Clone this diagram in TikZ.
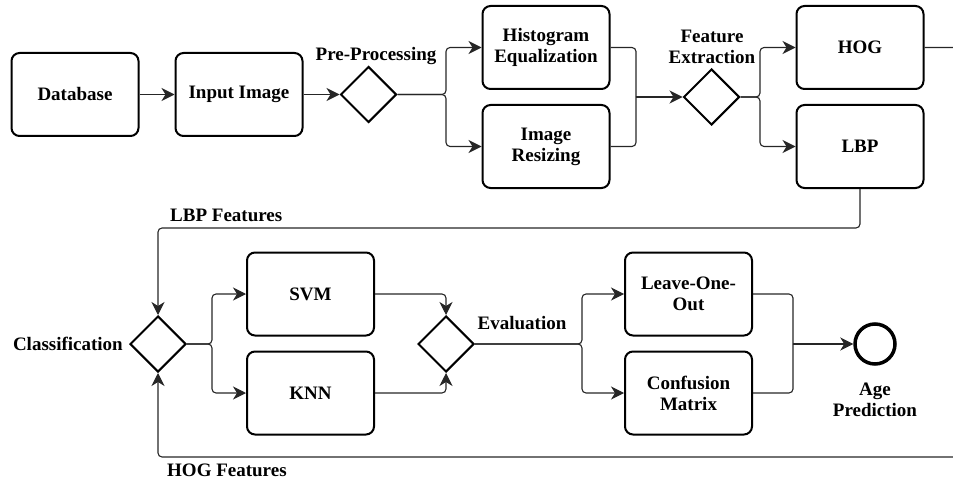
\documentclass[tikz,border=0pt]{standalone}
\usepackage{fontspec}
\setmainfont{Liberation Serif}
\usetikzlibrary{shapes.geometric,arrows.meta}
\begin{document}
\begin{tikzpicture}[x=1pt,y=-1pt,
  every node/.style={font=\fontsize{19}{21}\selectfont\bfseries},
  box/.style={draw, line width=2pt, rounded corners=8pt, minimum width=127, minimum height=83, align=center, inner sep=2pt},
  gate/.style={draw, diamond, line width=2pt, minimum width=56, minimum height=56, inner sep=0pt},
  lbl/.style={inner sep=0pt, align=center},
  conn/.style={draw=black!85, line width=1.1pt, rounded corners=4pt},
  arr/.style={conn, -{Stealth[length=13pt,width=13pt,inset=4pt]}}
]
\useasboundingbox (0,0) rectangle (953,484);
\clip (0,0) rectangle (953,484);
% top row
\node[box] (db) at (75,94.5) {Database};
\node[box] (inp) at (239,94.5) {Input Image};
\node[gate] (pp) at (368.5,94.5) {};
\node[lbl] (ppl) at (376,56) {Pre-Processing};
\node[box] (hist) at (546,47.5) {Histogram\\Equalization};
\node[box] (resz) at (546,146.5) {Image\\Resizing};
\node[gate] (fe) at (711.5,97) {};
\node[lbl] (fel) at (712,47) {Feature\\Extraction};
\node[box] (hog) at (860,47.5) {HOG};
\node[box] (lbp) at (860,146.5) {LBP};
% bottom row
\node[gate] (cls) at (158,344) {};
\node[lbl, anchor=east] (clsl) at (123,344) {Classification};
\node[box] (svm) at (310.5,294) {SVM};
\node[box] (knn) at (310.5,393) {KNN};
\node[gate] (ev) at (446,344) {};
\node[lbl] (evl) at (522,323) {Evaluation};
\node[box] (loo) at (688.5,294) {Leave-One-\\Out};
\node[box] (cm) at (688.5,393) {Confusion\\Matrix};
\node[draw, circle, line width=3.5pt, minimum size=40, inner sep=0pt] (end) at (875,344) {};
\node[lbl] (endl) at (875,400) {Age\\Prediction};
\node[lbl, anchor=west] (lbpl) at (170,215) {LBP Features};
\node[lbl, anchor=west] (hogl) at (167,470) {HOG Features};
% coordinates
\coordinate (s1) at (446,94.5);
\coordinate (m1) at (636,97);
\coordinate (s2) at (760,97);
\coordinate (s3) at (212,344);
\coordinate (s4) at (582,344);
\coordinate (m2) at (793,344);
\coordinate (lb1) at (860,228);
\coordinate (lb2) at (158,228);
\coordinate (hg1) at (990,47.5);
\coordinate (hg2) at (990,457);
\coordinate (hg3) at (158,457);
% connectors
\draw[arr] (db) -- (inp);
\draw[arr] (inp) -- (pp.west);
\draw[arr] (pp.east) -- (s1) |- (hist.west);
\draw[arr] (pp.east) -- (s1) |- (resz.west);
\draw[conn] (hist.east) -| (m1);
\draw[conn] (resz.east) -| (m1);
\draw[arr] (m1) -- (fe.west);
\draw[arr] (fe.east) -- (s2) |- (hog.west);
\draw[arr] (fe.east) -- (s2) |- (lbp.west);
\draw[arr] (lbp.south) -- (lb1) -- (lb2) -- (cls.north);
\draw[arr] (hog.east) -- (hg1) -- (hg2) -- (hg3) -- (cls.south);
\draw[arr] (cls.east) -- (s3) |- (svm.west);
\draw[arr] (cls.east) -- (s3) |- (knn.west);
\draw[arr] (svm.east) -| (ev.north);
\draw[arr] (knn.east) -| (ev.south);
\draw[arr] (ev.east) -- (s4) |- (loo.west);
\draw[arr] (ev.east) -- (s4) |- (cm.west);
\draw[conn] (loo.east) -| (m2);
\draw[conn] (cm.east) -| (m2);
\draw[arr] (m2) -- (end.west);
\end{tikzpicture}
\end{document}
